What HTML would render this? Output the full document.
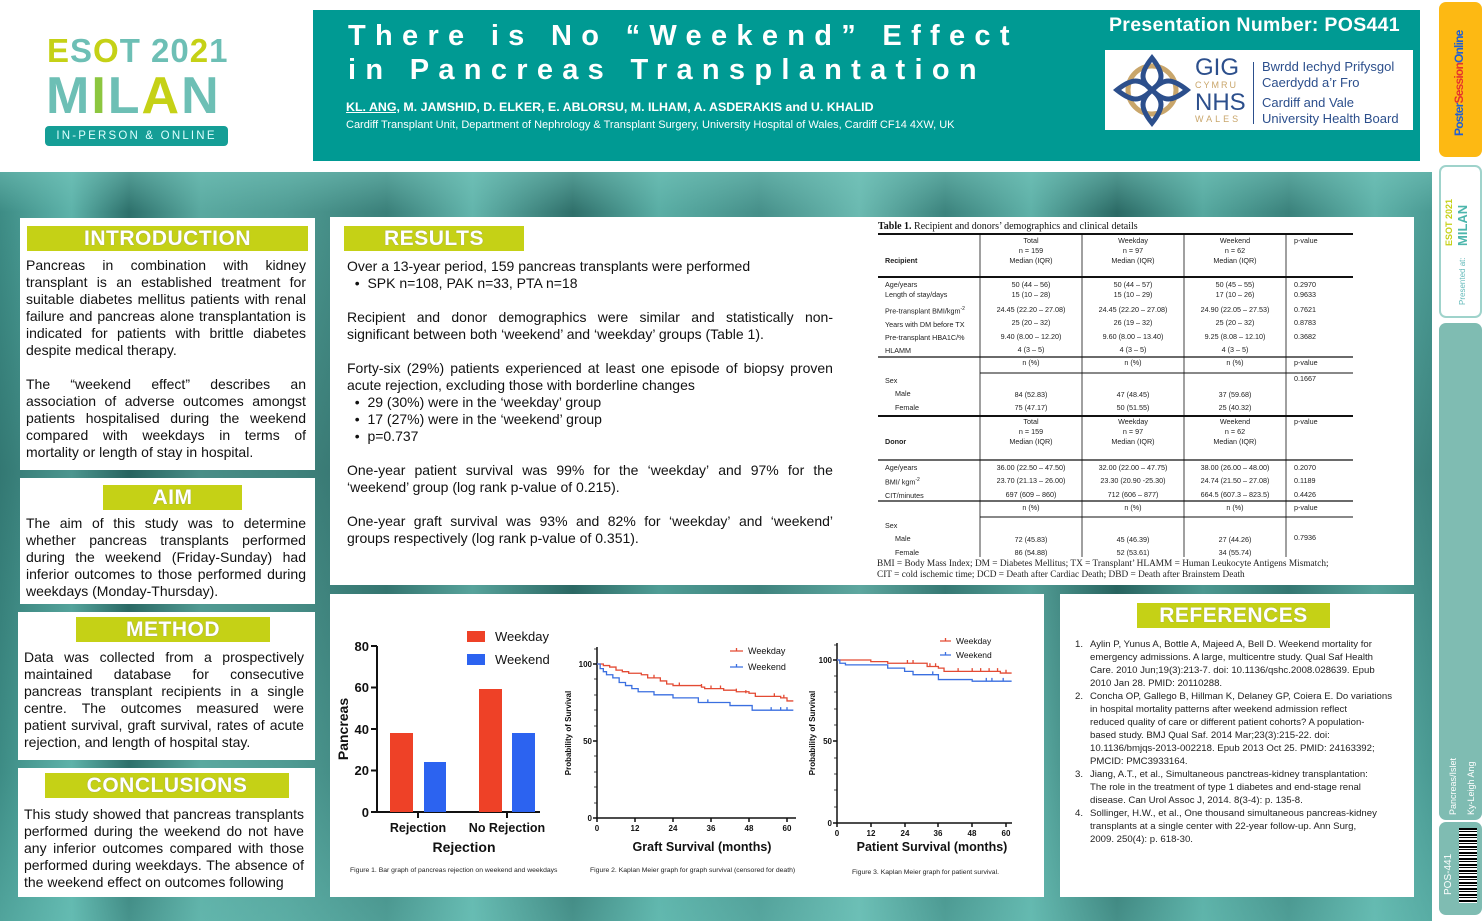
<!DOCTYPE html>
<html><head><meta charset="utf-8"><style>
*{margin:0;padding:0;box-sizing:border-box}
body{width:1484px;height:921px;position:relative;overflow:hidden;background:#fff;font-family:"Liberation Sans",Arial,sans-serif;color:#111}
.a{position:absolute}
.bg{left:0;top:172px;width:1432px;height:749px;background:linear-gradient(90deg,#3d8c85 0%,#5eb3aa 5%,#2d706b 9%,#5aa9a0 14%,#4f9b93 20%,#3a7f79 27%,#63b5ac 33%,#2f6f6a 40%,#5aaea5 46%,#468f89 53%,#6bbab1 60%,#3c837d 66%,#5fb1a8 72%,#2b6a65 78%,#56a89f 84%,#3a817b 90%,#60b3aa 96%,#4a9a93 100%)}
.bg2{left:0;top:172px;width:1432px;height:749px;background:linear-gradient(180deg,rgba(120,200,190,.5) 0px,rgba(0,0,0,0) 40px,rgba(20,60,60,.25) 300px,rgba(0,0,0,0) 600px,rgba(110,200,190,.4) 749px)}
.w{background:#fff}
.h{background:#c5d116;color:#fff;font-weight:bold;font-size:21px;text-align:center;line-height:25px;letter-spacing:.5px;text-shadow:0 0 1px #888}
.t{font-size:14px;line-height:17px;width:280px}
.j{text-align:justify;text-align-last:justify;white-space:nowrap;display:flex;justify-content:space-between}
.l{white-space:nowrap}
.tb{font-size:7.2px;color:#222;line-height:10px}
.c{text-align:center;width:100px}
.ref{font-size:9.6px;line-height:13px;color:#222;white-space:nowrap}
</style></head><body>

<!-- ESOT logo -->
<div class="a" style="left:47px;top:33px;font-size:33px;font-weight:bold;letter-spacing:1px;color:#c5d116;line-height:36px">E<span style="color:#6dbfb5">S</span>O<span style="color:#6dbfb5">T</span> <span style="color:#6dbfb5">20</span>2<span style="color:#6dbfb5">1</span></div>
<div class="a" style="left:46px;top:70px;font-size:52px;font-weight:bold;letter-spacing:2px;color:#6dbfb5;line-height:52px">M<span style="color:#8cc63f">I</span>L<span style="color:#c5d116">A</span>N</div>
<div class="a" style="left:45px;top:126px;width:183px;height:20px;background:#159e96;border-radius:4px;color:#dff;font-size:11.5px;letter-spacing:2.2px;text-align:center;line-height:20px">IN-PERSON &amp; ONLINE</div>

<!-- header -->
<div class="a" style="left:313px;top:10px;width:1107px;height:151px;background:#009a93"></div>
<div class="a" style="left:348px;top:19px;color:#fff;font-weight:900;font-size:29px;letter-spacing:9.3px;line-height:34px;white-space:nowrap">There is No “Weekend” Effect<br>in Pancreas Transplantation</div>
<div class="a" style="left:346px;top:100px;color:#fff;font-weight:bold;font-size:12.4px;white-space:nowrap"><u>KL. ANG,</u> M. JAMSHID, D. ELKER, E. ABLORSU, M. ILHAM, A. ASDERAKIS and U. KHALID</div>
<div class="a" style="left:346px;top:119px;color:#fff;font-size:11px;white-space:nowrap">Cardiff Transplant Unit, Department of Nephrology &amp; Transplant Surgery, University Hospital of Wales, Cardiff CF14 4XW, UK</div>
<div class="a" style="left:1109px;top:14px;color:#fff;font-weight:bold;font-size:19.5px;letter-spacing:.3px;white-space:nowrap">Presentation Number: POS441</div>
<div class="a w" style="left:1105px;top:50px;width:308px;height:80px"></div>
<svg class="a" style="left:1112px;top:53px" width="80" height="75"><circle cx="40" cy="37" r="24" fill="none" stroke="#c9a66b" stroke-width="5"/><g fill="none" stroke="#2c4f8c" stroke-width="5"><path d="M40 5 C52 20 52 28 40 37 C28 28 28 20 40 5Z"/><path d="M40 70 C52 55 52 47 40 37 C28 47 28 55 40 70Z"/><path d="M5 37 C20 25 28 25 40 37 C28 49 20 49 5 37Z"/><path d="M75 37 C60 25 52 25 40 37 C52 49 60 49 75 37Z"/></g></svg>
<div class="a" style="left:1195px;top:56px;color:#2c4f8c;font-size:24px;line-height:24px">GIG</div>
<div class="a" style="left:1195px;top:80px;color:#c9a66b;font-size:9px;letter-spacing:2px">CYMRU</div>
<div class="a" style="left:1195px;top:91px;color:#2c4f8c;font-size:24px;line-height:24px">NHS</div>
<div class="a" style="left:1195px;top:114px;color:#c9a66b;font-size:9px;letter-spacing:3px">WALES</div>
<div class="a" style="left:1253px;top:62px;width:1px;height:62px;background:#2c4f8c"></div>
<div class="a" style="left:1262px;top:59px;color:#2c4f8c;font-size:13px;line-height:16px;white-space:nowrap">Bwrdd Iechyd Prifysgol<br>Caerdydd a’r Fro</div>
<div class="a" style="left:1262px;top:95px;color:#2c4f8c;font-size:13px;line-height:16px;white-space:nowrap">Cardiff and Vale<br>University Health Board</div>

<!-- right sidebar -->
<div class="a" style="left:1439px;top:2px;width:43px;height:155px;background:#fdb913;border-radius:7px"></div>
<div class="a" style="left:1446px;top:136px;transform:rotate(-90deg);transform-origin:left top;font-weight:900;font-size:12px;color:#1f5fd6;white-space:nowrap;letter-spacing:-.8px;line-height:26px">Poster<span style="color:#e5322d">Session</span>Online</div>
<div class="a" style="left:1439px;top:165px;width:43px;height:153px;border:2px solid #9fd3cb;border-radius:7px"></div>
<div class="a" style="left:1442px;top:246px;transform:rotate(-90deg);transform-origin:left top;font-weight:bold;font-size:9px;color:#c5d116;white-space:nowrap;line-height:14px">ESOT 2021<br><span style="color:#4db6ac;font-size:13px">MILAN</span></div>
<div class="a" style="left:1458px;top:305px;transform:rotate(-90deg);transform-origin:left top;font-size:8px;color:#6bb;white-space:nowrap">Presented at:</div>
<div class="a" style="left:1439px;top:323px;width:43px;height:497px;background:#7fbcb2;border-radius:7px"></div>
<div class="a" style="left:1444px;top:815px;transform:rotate(-90deg);transform-origin:left top;font-size:9px;color:#fff;white-space:nowrap;line-height:18px">Pancreas/Islet<br>Ky-Leigh Ang</div>
<div class="a" style="left:1439px;top:822px;width:43px;height:93px;background:#7fbcb2;border-radius:7px"></div>
<div class="a" style="left:1443px;top:895px;transform:rotate(-90deg);transform-origin:left top;font-size:10px;color:#fff;white-space:nowrap">POS-441</div>
<div class="a" style="left:1459px;top:828px;width:18px;height:75px;background:repeating-linear-gradient(180deg,#000 0 2px,#fff 2px 3px,#000 3px 4px,#fff 4px 6px)"></div>

<!-- background band -->
<div class="a bg"></div><div class="a bg2"></div>

<!-- Introduction -->
<div class="a w" style="left:20px;top:218px;width:295px;height:252px"></div>
<div class="a h" style="left:27px;top:226px;width:281px">INTRODUCTION</div>
<div class="a t" style="left:26px;top:257px">
<div class="j"><span>Pancreas</span><span>in</span><span>combination</span><span>with</span><span>kidney</span></div>
<div class="j"><span>transplant</span><span>is</span><span>an</span><span>established</span><span>treatment</span><span>for</span></div>
<div class="j"><span>suitable</span><span>diabetes</span><span>mellitus</span><span>patients</span><span>with</span><span>renal</span></div>
<div class="j"><span>failure</span><span>and</span><span>pancreas</span><span>alone</span><span>transplantation</span><span>is</span></div>
<div class="j"><span>indicated</span><span>for</span><span>patients</span><span>with</span><span>brittle</span><span>diabetes</span></div>
<div class="l">despite medical therapy.</div>
<div class="l">&nbsp;</div>
<div class="j"><span>The</span><span>“weekend</span><span>effect”</span><span>describes</span><span>an</span></div>
<div class="j"><span>association</span><span>of</span><span>adverse</span><span>outcomes</span><span>amongst</span></div>
<div class="j"><span>patients</span><span>hospitalised</span><span>during</span><span>the</span><span>weekend</span></div>
<div class="j"><span>compared</span><span>with</span><span>weekdays</span><span>in</span><span>terms</span><span>of</span></div>
<div class="l">mortality or length of stay in hospital.</div>
</div>

<!-- Aim -->
<div class="a w" style="left:20px;top:478px;width:295px;height:126px"></div>
<div class="a h" style="left:103px;top:485px;width:139px">AIM</div>
<div class="a t" style="left:26px;top:515px">
<div class="j"><span>The</span><span>aim</span><span>of</span><span>this</span><span>study</span><span>was</span><span>to</span><span>determine</span></div>
<div class="j"><span>whether</span><span>pancreas</span><span>transplants</span><span>performed</span></div>
<div class="j"><span>during</span><span>the</span><span>weekend</span><span>(Friday-Sunday)</span><span>had</span></div>
<div class="j"><span>inferior</span><span>outcomes</span><span>to</span><span>those</span><span>performed</span><span>during</span></div>
<div class="l">weekdays (Monday-Thursday).</div>
</div>

<!-- Method -->
<div class="a w" style="left:18px;top:612px;width:297px;height:148px"></div>
<div class="a h" style="left:76px;top:617px;width:194px">METHOD</div>
<div class="a t" style="left:24px;top:649px">
<div class="j"><span>Data</span><span>was</span><span>collected</span><span>from</span><span>a</span><span>prospectively</span></div>
<div class="j"><span>maintained</span><span>database</span><span>for</span><span>consecutive</span></div>
<div class="j"><span>pancreas</span><span>transplant</span><span>recipients</span><span>in</span><span>a</span><span>single</span></div>
<div class="j"><span>centre.</span><span>The</span><span>outcomes</span><span>measured</span><span>were</span></div>
<div class="j"><span>patient</span><span>survival,</span><span>graft</span><span>survival,</span><span>rates</span><span>of</span><span>acute</span></div>
<div class="l">rejection, and length of hospital stay.</div>
</div>

<!-- Conclusions -->
<div class="a w" style="left:18px;top:768px;width:297px;height:129px"></div>
<div class="a h" style="left:45px;top:773px;width:244px">CONCLUSIONS</div>
<div class="a t" style="left:24px;top:806px">
<div class="j"><span>This</span><span>study</span><span>showed</span><span>that</span><span>pancreas</span><span>transplants</span></div>
<div class="j"><span>performed</span><span>during</span><span>the</span><span>weekend</span><span>do</span><span>not</span><span>have</span></div>
<div class="j"><span>any</span><span>inferior</span><span>outcomes</span><span>compared</span><span>with</span><span>those</span></div>
<div class="j"><span>performed</span><span>during</span><span>weekdays.</span><span>The</span><span>absence</span><span>of</span></div>
<div class="l">the weekend effect on outcomes following</div>
</div>

<!-- Results + table -->
<div class="a w" style="left:330px;top:217px;width:1084px;height:368px"></div>
<div class="a h" style="left:344px;top:226px;width:180px">RESULTS</div>
<div class="a" style="left:347px;top:258px;width:486px;font-size:14px;line-height:17px">
<div class="l">Over a 13-year period, 159 pancreas transplants were performed</div>
<div class="l">&nbsp;&nbsp;•&nbsp; SPK n=108, PAK n=33, PTA n=18</div>
<div class="l">&nbsp;</div>
<div class="j"><span>Recipient</span><span>and</span><span>donor</span><span>demographics</span><span>were</span><span>similar</span><span>and</span><span>statistically</span><span>non-</span></div>
<div class="l">significant between both ‘weekend’ and ‘weekday’ groups (Table 1).</div>
<div class="l">&nbsp;</div>
<div class="j"><span>Forty-six</span><span>(29%)</span><span>patients</span><span>experienced</span><span>at</span><span>least</span><span>one</span><span>episode</span><span>of</span><span>biopsy</span><span>proven</span></div>
<div class="l">acute rejection, excluding those with borderline changes</div>
<div class="l">&nbsp;&nbsp;•&nbsp; 29 (30%) were in the ‘weekday’ group</div>
<div class="l">&nbsp;&nbsp;•&nbsp; 17 (27%) were in the ‘weekend’ group</div>
<div class="l">&nbsp;&nbsp;•&nbsp; p=0.737</div>
<div class="l">&nbsp;</div>
<div class="j"><span>One-year</span><span>patient</span><span>survival</span><span>was</span><span>99%</span><span>for</span><span>the</span><span>‘weekday’</span><span>and</span><span>97%</span><span>for</span><span>the</span></div>
<div class="l">‘weekend’ group (log rank p-value of 0.215).</div>
<div class="l">&nbsp;</div>
<div class="j"><span>One-year</span><span>graft</span><span>survival</span><span>was</span><span>93%</span><span>and</span><span>82%</span><span>for</span><span>‘weekday’</span><span>and</span><span>‘weekend’</span></div>
<div class="l">groups respectively (log rank p-value of 0.351).</div>
</div>

<!-- Table -->
<div class="a" style="left:878px;top:221px;font-family:'Liberation Serif',serif;font-size:10px;white-space:nowrap"><b>Table 1.</b> Recipient and donors’ demographics and clinical details</div>
<svg class="a" style="left:0;top:0" width="1484" height="921">
<g stroke="#111">
<line x1="878" y1="234" x2="1353" y2="234" stroke-width="2"/>
<line x1="878" y1="277" x2="1353" y2="277" stroke-width="2"/>
<line x1="878" y1="357" x2="1353" y2="357" stroke-width="1.3"/>
<line x1="980" y1="373" x2="1353" y2="373" stroke-width="1"/>
<line x1="878" y1="416" x2="1353" y2="416" stroke-width="2"/>
<line x1="878" y1="460" x2="1353" y2="460" stroke-width="1.3"/>
<line x1="878" y1="501" x2="1353" y2="501" stroke-width="1.3"/>
<line x1="980" y1="517" x2="1353" y2="517" stroke-width="1"/>
<line x1="980" y1="234" x2="980" y2="557" stroke-width=".8"/>
<line x1="1082" y1="234" x2="1082" y2="557" stroke-width=".8"/>
<line x1="1184" y1="234" x2="1184" y2="557" stroke-width=".8"/>
<line x1="1286" y1="234" x2="1286" y2="557" stroke-width=".8"/>
</g></svg>
<div class="a tb" style="left:885px;top:256px;font-weight:bold">Recipient</div>
<div class="a tb" style="left:885px;top:437px;font-weight:bold">Donor</div>
<div class="a tb c" style="left:981px;top:236px">Total<br>n = 159<br>Median (IQR)</div>
<div class="a tb c" style="left:1083px;top:236px">Weekday<br>n = 97<br>Median (IQR)</div>
<div class="a tb c" style="left:1185px;top:236px">Weekend<br>n = 62<br>Median (IQR)</div>
<div class="a tb" style="left:1294px;top:236px">p-value</div>
<div class="a tb c" style="left:981px;top:417px">Total<br>n = 159<br>Median (IQR)</div>
<div class="a tb c" style="left:1083px;top:417px">Weekday<br>n = 97<br>Median (IQR)</div>
<div class="a tb c" style="left:1185px;top:417px">Weekend<br>n = 62<br>Median (IQR)</div>
<div class="a tb" style="left:1294px;top:417px">p-value</div>
<div class="a tb" style="left:885px;top:280px;line-height:10px">Age/years<br>Length of stay/days</div>
<div class="a tb c" style="left:981px;top:280px">50 (44 – 56)<br>15 (10 – 28)</div>
<div class="a tb c" style="left:1083px;top:280px">50 (44 – 57)<br>15 (10 – 29)</div>
<div class="a tb c" style="left:1185px;top:280px">50 (45 – 55)<br>17 (10 – 26)</div>
<div class="a tb" style="left:1294px;top:280px">0.2970<br>0.9633</div>
<div class="a tb" style="left:885px;top:303px;line-height:13.3px">Pre-transplant BMI/kgm<sup style="font-size:5px">-2</sup><br>Years with DM before TX<br>Pre-transplant HBA1C/%<br>HLAMM</div>
<div class="a tb c" style="left:981px;top:303px;line-height:13.3px">24.45 (22.20 – 27.08)<br>25 (20 – 32)<br>9.40 (8.00 – 12.20)<br>4 (3 – 5)</div>
<div class="a tb c" style="left:1083px;top:303px;line-height:13.3px">24.45 (22.20 – 27.08)<br>26 (19 – 32)<br>9.60 (8.00 – 13.40)<br>4 (3 – 5)</div>
<div class="a tb c" style="left:1185px;top:303px;line-height:13.3px">24.90 (22.05 – 27.53)<br>25 (20 – 32)<br>9.25 (8.08 – 12.10)<br>4 (3 – 5)</div>
<div class="a tb" style="left:1294px;top:303px;line-height:13.3px">0.7621<br>0.8783<br>0.3682</div>
<div class="a tb c" style="left:981px;top:358px">n (%)</div><div class="a tb c" style="left:1083px;top:358px">n (%)</div><div class="a tb c" style="left:1185px;top:358px">n (%)</div><div class="a tb" style="left:1294px;top:358px">p-value</div>
<div class="a tb" style="left:885px;top:374px;line-height:13.4px">Sex<br>&nbsp;&nbsp;&nbsp;&nbsp;&nbsp;Male<br>&nbsp;&nbsp;&nbsp;&nbsp;&nbsp;Female</div>
<div class="a tb" style="left:1294px;top:374px">0.1667</div>
<div class="a tb c" style="left:981px;top:388px;line-height:13.4px">84 (52.83)<br>75 (47.17)</div>
<div class="a tb c" style="left:1083px;top:388px;line-height:13.4px">47 (48.45)<br>50 (51.55)</div>
<div class="a tb c" style="left:1185px;top:388px;line-height:13.4px">37 (59.68)<br>25 (40.32)</div>
<div class="a tb" style="left:885px;top:461px;line-height:13.4px">Age/years<br>BMI/ kgm<sup style="font-size:5px">-2</sup><br>CIT/minutes</div>
<div class="a tb c" style="left:981px;top:461px;line-height:13.4px">36.00 (22.50 – 47.50)<br>23.70 (21.13 – 26.00)<br>697 (609 – 860)</div>
<div class="a tb c" style="left:1083px;top:461px;line-height:13.4px">32.00 (22.00 – 47.75)<br>23.30 (20.90 -25.30)<br>712 (606 – 877)</div>
<div class="a tb c" style="left:1185px;top:461px;line-height:13.4px">38.00 (26.00 – 48.00)<br>24.74 (21.50 – 27.08)<br>664.5 (607.3 – 823.5)</div>
<div class="a tb" style="left:1294px;top:461px;line-height:13.4px">0.2070<br>0.1189<br>0.4426</div>
<div class="a tb c" style="left:981px;top:503px">n (%)</div><div class="a tb c" style="left:1083px;top:503px">n (%)</div><div class="a tb c" style="left:1185px;top:503px">n (%)</div><div class="a tb" style="left:1294px;top:503px">p-value</div>
<div class="a tb" style="left:885px;top:519px;line-height:13.4px">Sex<br>&nbsp;&nbsp;&nbsp;&nbsp;&nbsp;Male<br>&nbsp;&nbsp;&nbsp;&nbsp;&nbsp;Female</div>
<div class="a tb c" style="left:981px;top:533px;line-height:13.4px">72 (45.83)<br>86 (54.88)</div>
<div class="a tb c" style="left:1083px;top:533px;line-height:13.4px">45 (46.39)<br>52 (53.61)</div>
<div class="a tb c" style="left:1185px;top:533px;line-height:13.4px">27 (44.26)<br>34 (55.74)</div>
<div class="a tb" style="left:1294px;top:533px">0.7936</div>
<div class="a" style="left:877px;top:559px;font-family:'Liberation Serif',serif;font-size:9.3px;line-height:11px;white-space:nowrap;color:#222">BMI = Body Mass Index; DM = Diabetes Mellitus; TX = Transplant’ HLAMM = Human Leukocyte Antigens Mismatch;<br>CIT = cold ischemic time; DCD = Death after Cardiac Death; DBD = Death after Brainstem Death</div>

<!-- Charts panel -->
<div class="a w" style="left:330px;top:594px;width:714px;height:303px"></div>
<div class="a w" style="left:1060px;top:594px;width:354px;height:303px"></div>
<svg class="a" style="left:0;top:0" width="1484" height="921" font-family="Liberation Sans, Arial, sans-serif">
<g stroke="#111" stroke-width="2" fill="none">
<path d="M377 646 V812 H540"/>
<path d="M371 646 H377 M371 687.5 H377 M371 729 H377 M371 770.5 H377 M371 812 H377 M418 812 v6 M507 812 v6"/>
</g>
<g font-size="13" font-weight="bold" text-anchor="end" fill="#111">
<text x="369" y="651">80</text><text x="369" y="692">60</text><text x="369" y="734">40</text><text x="369" y="775">20</text><text x="369" y="817">0</text>
</g>
<rect x="390" y="733" width="23" height="79" fill="#ee4127"/>
<rect x="424" y="762" width="22" height="50" fill="#2c63f0"/>
<rect x="479" y="689" width="23" height="123" fill="#ee4127"/>
<rect x="512" y="733" width="23" height="79" fill="#2c63f0"/>
<rect x="467" y="631" width="18" height="11" fill="#ee4127"/><text x="495" y="641" font-size="13" fill="#111">Weekday</text>
<rect x="467" y="654" width="18" height="11" fill="#2c63f0"/><text x="495" y="664" font-size="13" fill="#111">Weekend</text>
<g font-size="12.5" font-weight="bold" text-anchor="middle" fill="#111">
<text x="418" y="832">Rejection</text><text x="507" y="832">No Rejection</text>
<text x="464" y="852" font-size="14">Rejection</text>
<text transform="translate(348,729) rotate(-90)" font-size="14">Pancreas</text>
</g>

<g stroke="#111" stroke-width="1.5" fill="none">
<path d="M597 647 V818 H796"/>
<path d="M593 664 H597 M593 741 H597 M593 818 H597 M597 818 v4 M635 818 v4 M673 818 v4 M711 818 v4 M749 818 v4 M787 818 v4"/>
<path stroke-width=".8" d="M594 649 H597 M594 679 H597 M594 695 H597 M594 710 H597 M594 726 H597 M594 756 H597 M594 772 H597 M594 787 H597 M594 803 H597"/>
</g>
<g font-size="8" font-weight="bold" fill="#111" text-anchor="end"><text x="592" y="667">100</text><text x="592" y="744">50</text><text x="592" y="821">0</text></g>
<g font-size="8" font-weight="bold" fill="#111" text-anchor="middle"><text x="597" y="831">0</text><text x="635" y="831">12</text><text x="673" y="831">24</text><text x="711" y="831">36</text><text x="749" y="831">48</text><text x="787" y="831">60</text></g>
<g transform="translate(597,818) scale(3.1667,-1.54)" fill="none" stroke-width="1.3">
<path vector-effect="non-scaling-stroke" stroke="#e34a33" d="M0,100 H2 V99 H4 V98 H6 V96 H8 V95 H10 V94 H14 V93 H16 V91 H20 V89 H22 V87 H24 V86 H33 V85 H34 V84 H40 V83 H44 V82 H48 V81 H50 V79 H58 V78 H60 V76 H62 M18,91 v2 M26,86 v2 M33,85 v2 M36,84 v2 M39,84 v2 M44,82 v2 M47,81 v2 M56,79 v2 M59,78 v2"/>
<path vector-effect="non-scaling-stroke" stroke="#3a6fe0" d="M0,100 H1 V97 H2 V95 H3 V93 H5 V91 H7 V88 H9 V86 H11 V84 H13 V82 H18 V80 H24 V78 H32 V75 H42 V73 H49 V70 H62 M35,75 v2 M55,70 v2 M58,70 v2 M60,70 v2"/>
</g>
<path d="M730 651 H743 M736.5 648 v3" stroke="#e34a33" stroke-width="1.3"/><text x="748" y="654" font-size="9" fill="#111">Weekday</text>
<path d="M730 667 H743 M736.5 664 v3" stroke="#3a6fe0" stroke-width="1.3"/><text x="748" y="670" font-size="9" fill="#111">Weekend</text>
<text transform="translate(571,733) rotate(-90)" font-size="8" font-weight="bold" text-anchor="middle" fill="#111">Probability of Survival</text>
<text x="702" y="851" font-size="12.5" font-weight="bold" text-anchor="middle" fill="#111">Graft Survival (months)</text>

<g stroke="#111" stroke-width="1.5" fill="none">
<path d="M837 643 V823 H1012"/>
<path d="M833 660 H837 M833 741 H837 M833 823 H837 M837 823 v4 M871 823 v4 M905 823 v4 M938 823 v4 M972 823 v4 M1006 823 v4"/>
<path stroke-width=".8" d="M834 645 H837 M834 676 H837 M834 692 H837 M834 709 H837 M834 725 H837 M834 758 H837 M834 774 H837 M834 790 H837 M834 807 H837"/>
</g>
<g font-size="8" font-weight="bold" fill="#111" text-anchor="end"><text x="832" y="663">100</text><text x="832" y="744">50</text><text x="832" y="826">0</text></g>
<g font-size="8" font-weight="bold" fill="#111" text-anchor="middle"><text x="837" y="836">0</text><text x="871" y="836">12</text><text x="905" y="836">24</text><text x="938" y="836">36</text><text x="972" y="836">48</text><text x="1006" y="836">60</text></g>
<g transform="translate(837,823) scale(2.8167,-1.63)" fill="none" stroke-width="1.3">
<path vector-effect="non-scaling-stroke" stroke="#e34a33" d="M0,100 H12 V99 H18 V98 H32 V96 H36 V95 H38 V93 H58 V92 H62 M25,98 v2 M27,98 v2 M33,96 v2 M35,96 v2 M43,93 v2 M48,93 v2 M51,93 v2 M54,93 v2 M57,93 v2 M60,92 v2"/>
<path vector-effect="non-scaling-stroke" stroke="#3a6fe0" d="M0,100 H1 V98 H3 V97 H18 V95 H24 V93 H27 V91 H36 V88 H48 V87 H62 M34,91 v2 M53,87 v2 M55,87 v2 M59,87 v2"/>
</g>
<path d="M940 641 H951 M945.5 638 v3" stroke="#e34a33" stroke-width="1.3"/><text x="956" y="644" font-size="8.5" fill="#111">Weekday</text>
<path d="M940 655 H951 M945.5 652 v3" stroke="#3a6fe0" stroke-width="1.3"/><text x="956" y="658" font-size="8.5" fill="#111">Weekend</text>
<text transform="translate(815,733) rotate(-90)" font-size="8" font-weight="bold" text-anchor="middle" fill="#111">Probability of Survival</text>
<text x="932" y="851" font-size="12.5" font-weight="bold" text-anchor="middle" fill="#111">Patient Survival (months)</text>

<g font-size="6.8" fill="#222">
<text x="350" y="872">Figure 1. Bar graph of pancreas rejection on weekend and weekdays</text>
<text x="590" y="872">Figure 2. Kaplan Meier graph for graph survival (censored for death)</text>
<text x="852" y="874">Figure 3. Kaplan Meier graph for patient survival.</text>
</g>
</svg>

<!-- References -->
<div class="a h" style="left:1137px;top:603px;width:193px">REFERENCES</div>
<div class="a ref" style="left:1075px;top:638px">1.</div>
<div class="a ref" style="left:1090px;top:638px">Aylin P, Yunus A, Bottle A, Majeed A, Bell D. Weekend mortality for<br>emergency admissions. A large, multicentre study. Qual Saf Health<br>Care. 2010 Jun;19(3):213-7. doi: 10.1136/qshc.2008.028639. Epub<br>2010 Jan 28. PMID: 20110288.</div>
<div class="a ref" style="left:1075px;top:690px">2.</div>
<div class="a ref" style="left:1090px;top:690px">Concha OP, Gallego B, Hillman K, Delaney GP, Coiera E. Do variations<br>in hospital mortality patterns after weekend admission reflect<br>reduced quality of care or different patient cohorts? A population-<br>based study. BMJ Qual Saf. 2014 Mar;23(3):215-22. doi:<br>10.1136/bmjqs-2013-002218. Epub 2013 Oct 25. PMID: 24163392;<br>PMCID: PMC3933164.</div>
<div class="a ref" style="left:1075px;top:768px">3.</div>
<div class="a ref" style="left:1090px;top:768px">Jiang, A.T., et al., Simultaneous panctreas-kidney transplantation:<br>The role in the treatment of type 1 diabetes and end-stage renal<br>disease. Can Urol Assoc J, 2014. 8(3-4): p. 135-8.</div>
<div class="a ref" style="left:1075px;top:807px">4.</div>
<div class="a ref" style="left:1090px;top:807px">Sollinger, H.W., et al., One thousand simultaneous pancreas-kidney<br>transplants at a single center with 22-year follow-up. Ann Surg,<br>2009. 250(4): p. 618-30.</div>

</body></html>
